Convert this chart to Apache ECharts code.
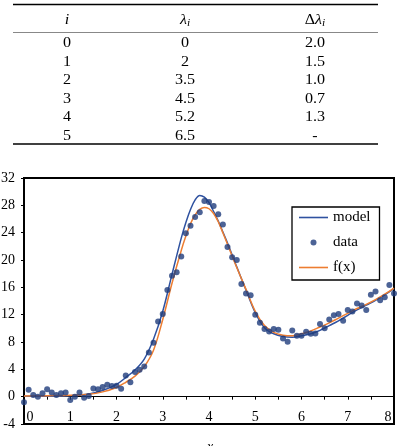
<!DOCTYPE html>
<html>
<head>
<meta charset="utf-8">
<script src="https://cdn.jsdelivr.net/npm/echarts@6/dist/echarts.min.js"></script>
<style>
html,body{margin:0;padding:0;background:#fff;}
#chart{width:398px;height:446px;}
</style>
</head>
<body>
<div id="chart"></div>
<script>
// ---- table data ----
var tableI = ['0', '1', '2', '3', '4', '5'];
var tableLambda = ['0', '2', '3.5', '4.5', '5.2', '6.5'];
var tableDLambda = ['2.0', '1.5', '1.0', '0.7', '1.3', '-'];

// ---- chart data ----
var dataX = [0.0,0.1,0.2,0.3,0.4,0.5,0.6,0.7,0.8,0.9,1.0,1.1,1.2,1.3,1.4,1.5,1.6,1.7,1.8,1.9,
  2.0,2.1,2.2,2.3,2.4,2.5,2.6,2.7,2.8,2.9,3.0,3.1,3.2,3.3,3.4,3.5,3.6,3.7,3.8,3.9,
  4.0,4.1,4.2,4.3,4.4,4.5,4.6,4.7,4.8,4.9,5.0,5.1,5.2,5.3,5.4,5.5,5.6,5.7,5.8,5.9,
  6.0,6.1,6.2,6.3,6.4,6.5,6.6,6.7,6.8,6.9,7.0,7.1,7.2,7.3,7.4,7.5,7.6,7.7,7.8,7.9,8.0];
var dataY = [-0.8,1.0,0.25,0.0,0.5,1.1,0.6,0.25,0.5,0.6,-0.5,0.0,0.6,-0.15,0.1,1.2,1.1,1.4,1.75,1.55,
  1.6,1.15,3.1,2.1,3.6,3.95,4.4,6.45,7.9,11.0,12.1,15.6,17.7,18.2,20.5,23.9,25.0,26.3,27.0,28.65,
  28.5,27.9,26.7,25.2,21.9,20.4,20.0,16.5,15.1,14.85,12.0,10.8,9.9,9.55,9.9,9.8,8.5,8.05,9.7,8.9,
  8.9,9.5,9.2,9.25,10.65,10.0,11.3,11.9,12.1,11.1,12.7,12.45,13.65,13.35,12.7,14.9,15.4,14.1,14.55,16.35,15.1];

var modelX = [0,0.5,1.0,1.4,1.7,2.0,2.2,2.4,2.6,2.8,3.0,3.2,3.4,3.5,3.6,3.7,3.8,3.9,4.0,4.1,4.2,4.3,4.4,4.6,4.8,5.0,5.2,5.4,5.6,5.8,6.0,6.2,6.4,6.6,6.8,7.0,7.2,7.4,7.6,7.8,8.0];
var modelY = [0.05,0.05,0.15,0.4,0.9,1.8,2.8,3.9,5.5,8.4,12.5,17.9,23.2,25.5,27.4,28.8,29.45,29.2,28.4,27.1,25.7,24.1,22.5,19.0,15.6,12.3,10.1,9.2,8.8,8.7,8.9,9.2,9.7,10.4,11.1,11.9,12.7,13.4,14.1,14.9,15.8];

var fX = [0,0.5,1.0,1.4,1.7,2.0,2.2,2.4,2.6,2.8,3.0,3.2,3.4,3.5,3.6,3.7,3.8,3.9,4.0,4.1,4.2,4.3,4.4,4.6,4.8,5.0,5.2,5.4,5.6,5.8,6.0,6.2,6.4,6.6,6.8,7.0,7.2,7.4,7.6,7.8,8.0];
var fY = [0.1,0.15,0.2,0.35,0.7,1.35,2.1,3.0,4.4,6.8,11.3,16.6,21.4,23.5,25.3,26.6,27.4,27.7,27.5,26.8,25.6,24.0,22.3,18.9,15.7,12.5,10.4,9.4,9.0,8.9,9.2,9.6,10.2,10.8,11.5,12.2,12.9,13.5,14.2,15.0,15.9];

var xTicks = [0,1,2,3,4,5,6,7,8];
var xAxisTitle = 'x';

function pairs(xs, ys) { return xs.map(function (x, i) { return [x, ys[i]]; }); }

var serif = 'Liberation Serif';

// ---- table graphics ----
var colX = [67, 185, 315];
var rowY0 = 43.3, rowStep = 18.6;
var graphics = [];
graphics.push({type:'line', shape:{x1:13,y1:4.5,x2:378,y2:4.5}, style:{stroke:'#000', lineWidth:1.4}});
graphics.push({type:'line', shape:{x1:13,y1:32.5,x2:378,y2:32.5}, style:{stroke:'#888', lineWidth:1}});
graphics.push({type:'line', shape:{x1:13,y1:144,x2:378,y2:144}, style:{stroke:'#000', lineWidth:1.4}});
var headers = ['{it|i}', '{it|λ}{sub|i}', '{n|Δ}{it|λ}{sub|i}'];
var rich = {
  it:{fontFamily:serif, fontStyle:'italic', fontSize:14, color:'#000'},
  n:{fontFamily:serif, fontSize:14, color:'#000'},
  sub:{fontFamily:serif, fontStyle:'italic', fontSize:10, color:'#000', padding:[7,0,0,0]}
};
headers.forEach(function (h, c) {
  graphics.push({type:'text', x:colX[c], y:20, scaleX:1.15,
    style:{text:h, x:0, y:0, align:'center', verticalAlign:'middle', rich:rich}});
});
[tableI, tableLambda, tableDLambda].forEach(function (col, c) {
  col.forEach(function (t, r) {
    graphics.push({type:'text', x:colX[c], y:rowY0 + r*rowStep, scaleX:1.15,
      style:{text:t, x:0, y:0, align:'center', verticalAlign:'middle',
        fontFamily:serif, fontSize:14, fill:'#000'}});
  });
});
// x-axis title (mostly cut off at the bottom edge, as in the reference)
graphics.push({type:'text', x:210, y:447,
  style:{text:xAxisTitle, x:0, y:0, align:'center', verticalAlign:'middle',
    fontFamily:serif, fontStyle:'italic', fontSize:14, fill:'#000'}});

var lineIcon = 'path://M0 0H29V1.6H0Z';

var chart = echarts.init(document.getElementById('chart'), null, {renderer:'canvas'});
chart.setOption({
  animation:false,
  backgroundColor:'#fff',
  graphic:graphics,
  grid:{left:24, right:4, top:178, bottom:22, show:true, borderColor:'#000', borderWidth:2,
    containLabel:false, outerBoundsMode:'none'},
  legend:{
    orient:'vertical', left:292, top:207,
    padding:[3,9,5,7], itemWidth:29, itemHeight:6, itemGap:10,
    borderColor:'#000', borderWidth:1.3, backgroundColor:'#fff',
    textStyle:{fontFamily:serif, fontSize:15, color:'#000', lineHeight:15},
    data:[{name:'model', icon:lineIcon}, {name:'data', icon:'circle'}, {name:'f(x)', icon:lineIcon}]
  },
  xAxis:{
    type:'value', min:0, max:8, interval:0.5,
    axisLine:{onZero:true, lineStyle:{color:'#000', width:1}},
    axisTick:{show:true, inside:false, length:3, lineStyle:{color:'#000'}},
    axisLabel:{
      inside:true, margin:0, fontFamily:serif, fontSize:14, color:'#000',
      formatter:function (v) {
        if (xTicks.indexOf(v) < 0) return '';
        if (v === xTicks[0]) return '{l|' + v + '}';
        if (v === xTicks[xTicks.length-1]) return '{r|' + v + '}';
        return String(v);
      },
      rich:{
        l:{fontFamily:serif, fontSize:14, color:'#000', padding:[0,0,0,12]},
        r:{fontFamily:serif, fontSize:14, color:'#000', padding:[0,12,0,0]}
      }
    },
    splitLine:{show:false}
  },
  yAxis:{
    type:'value', min:-4, max:32, interval:4,
    axisLine:{show:true, onZero:false, lineStyle:{color:'#000', width:2}},
    axisTick:{show:true, inside:false, length:3, lineStyle:{color:'#000'}},
    axisLabel:{margin:9, fontFamily:serif, fontSize:14, color:'#000'},
    splitLine:{show:false}
  },
  series:[
    {name:'model', type:'line', data:pairs(modelX, modelY), smooth:0.35, symbol:'none',
      lineStyle:{color:'#2F52A0', width:1.5}, itemStyle:{color:'#2F52A0'}, z:2},
    {name:'data', type:'scatter', data:pairs(dataX, dataY), symbol:'circle', symbolSize:6,
      itemStyle:{color:'#1F3C7C'}, z:4},
    {name:'f(x)', type:'line', data:pairs(fX, fY), smooth:0.35, symbol:'none',
      lineStyle:{color:'#ED7D31', width:1.5}, itemStyle:{color:'#ED7D31'}, z:3}
  ]
});
</script>
</body>
</html>
